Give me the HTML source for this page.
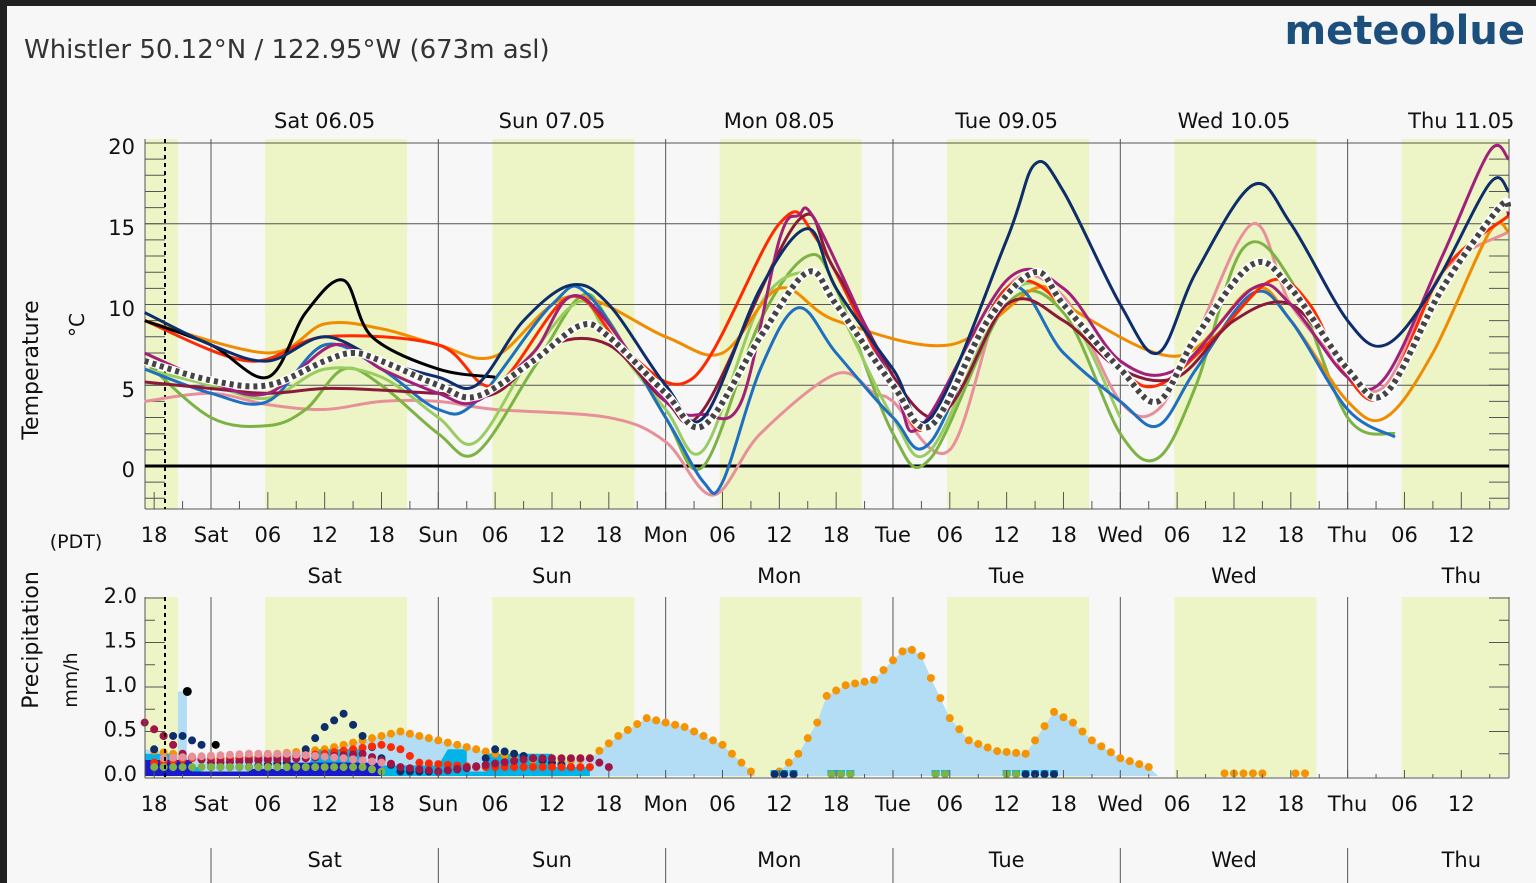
<!DOCTYPE html>
<html><head><meta charset="utf-8"><style>
html,body{margin:0;padding:0;background:#222;}
svg{display:block;font-family:"DejaVu Sans","Liberation Sans",sans-serif;}
</style></head><body>
<svg id="s" width="1536" height="883" xmlns="http://www.w3.org/2000/svg">
<rect x="0" y="0" width="1536" height="883" fill="#202020"/>
<rect x="7" y="6" width="1529" height="877" fill="#f7f7f7"/>
<text x="24" y="58" font-size="26" fill="#333">Whistler  50.12°N / 122.95°W (673m asl)</text>
<text x="1525" y="44" font-size="40" font-weight="bold" fill="#1d4f7c" text-anchor="end">meteoblue</text>
<g id="g"></g>
</svg>
<script>
const g=document.getElementById('g');let h='';
const X=t=>211+t*9.472;
const TY=v=>466-v*16.15;
const PY=v=>776-v*89;
const L=145,R=1509;
function seg(a,b){return [Math.max(a,-7),Math.min(b,137)];}
const days=[[-7,-3.5]];for(let d=0;d<6;d++)days.push([d*24+5.7,d*24+20.7]);
function shade(y1,y2){days.forEach(([a,b])=>{[a,b]=seg(a,b);h+=`<rect x="${X(a)}" y="${y1}" width="${X(b)-X(a)}" height="${y2-y1}" fill="#edf5c6"/>`;});}
shade(139,509);shade(597,777);
[20,15,10,5].forEach(v=>h+=`<line x1="${L}" x2="${R}" y1="${TY(v)}" y2="${TY(v)}" stroke="#555" stroke-width="1"/>`);
for(let d=0;d<6;d++)h+=`<line x1="${X(d*24)}" x2="${X(d*24)}" y1="139" y2="509" stroke="#555"/>`;
for(let v=-2;v<=20;v++)h+=`<line x1="${R-20}" x2="${R}" y1="${TY(v)}" y2="${TY(v)}" stroke="#555"/>`;
for(let v=-2;v<=20;v++)h+=`<line x1="${L}" x2="${L+20}" y1="${TY(v)}" y2="${TY(v)}" stroke="#555"/>`;
for(let t=-6;t<=137;t+=3)h+=`<line x1="${X(t)}" x2="${X(t)}" y1="509" y2="${t%6==0?492:501}" stroke="#555"/>`;
h+=`<line x1="${L}" x2="${L}" y1="139" y2="509" stroke="#555"/><line x1="${R}" x2="${R}" y1="139" y2="509" stroke="#555"/><line x1="${L}" x2="${R}" y1="509" y2="509" stroke="#555"/>`;
h+=`<line x1="${L}" x2="${R}" y1="${TY(0)}" y2="${TY(0)}" stroke="#000" stroke-width="3"/>`;
h+=`<line x1="165" x2="165" y1="139" y2="509" stroke="#000" stroke-width="2" stroke-dasharray="4,4"/>`;
[[20,147],[15,228],[10,309],[5,390],[0,470]].forEach(([v,y])=>h+=`<text x="135" y="${y+7}" font-size="21" text-anchor="end" fill="#111">${v}</text>`);
h+=`<text transform="translate(38,370) rotate(-90)" font-size="22" text-anchor="middle" fill="#111">Temperature</text>`;
h+=`<text transform="translate(84,325) rotate(-90)" font-size="20" text-anchor="middle" fill="#111">°C</text>`;
['Sat 06.05','Sun 07.05','Mon 08.05','Tue 09.05','Wed 10.05','Thu 11.05'].forEach((s,i)=>h+=`<text x="${X(i*24+12)}" y="128" font-size="21" text-anchor="middle" fill="#111">${s}</text>`);
const dn=['Sat','Sun','Mon','Tue','Wed','Thu'];
function hrlabels(y){for(let t=-6;t<=132;t+=6){let d=Math.floor(t/24),r=((t%24)+24)%24;let s=r==0?dn[d]:String(r).padStart(2,'0');h+=`<text x="${X(t)}" y="${y}" font-size="21" text-anchor="middle" fill="#111">${s}</text>`;}}
hrlabels(542);
h+=`<text x="76" y="548" font-size="19" text-anchor="middle" fill="#111">(PDT)</text>`;
dn.forEach((s,i)=>h+=`<text x="${X(i*24+12)}" y="583" font-size="21" text-anchor="middle" fill="#111">${s}</text>`);
function path(pts){pts=pts.map(([t,v])=>[X(t),TY(v)]);let d=`M${pts[0][0]},${pts[0][1]}`;for(let i=0;i<pts.length-1;i++){const p0=pts[i-1]||pts[i],p1=pts[i],p2=pts[i+1],p3=pts[i+2]||p2;const c1=[p1[0]+(p2[0]-p0[0])/6,p1[1]+(p2[1]-p0[1])/6],c2=[p2[0]-(p3[0]-p1[0])/6,p2[1]-(p3[1]-p1[1])/6];d+=`C${c1[0]},${c1[1]} ${c2[0]},${c2[1]} ${p2[0]},${p2[1]}`;}return d;}
const S=[
['#e8909a',[[-7,4],[0,4.5],[6,3.8],[12,3.5],[18,4],[24,4],[30,3.5],[42,3],[48,1.5],[53,-1.8],[58,2],[66,5.7],[70,4.5],[72,4],[78,1],[84,11],[90,10.5],[96,4],[100,3.5],[104,8],[110,15],[114,10],[120,6],[124,5],[130,12],[137,14.5]]],
['#7cb342',[[-7,6.5],[0,3],[6,2.5],[10,3.5],[14,6],[18,5],[24,2],[28,0.8],[34,6],[39,10.5],[42,9],[48,3],[52,0],[58,9],[63,13],[66,11],[72,2],[76,0.5],[84,10],[90,9.5],[96,2],[100,0.5],[104,5],[109,13.5],[114,11.5],[120,3],[125,2]]],
['#9acd60',[[-7,6],[0,5],[6,4.2],[12,6],[18,5.5],[24,3],[28,1.5],[34,7],[39,10.2],[42,8],[48,3.5],[52,1],[58,10],[63,12],[66,10],[72,3],[76,1],[84,10.5],[90,10],[96,3]]],
['#f08c00',[[-7,9],[6,7],[12,8.8],[18,8.5],[24,7.5],[30,6.8],[38,10.5],[48,8],[54,7],[60,11],[66,9],[78,7.5],[87,11],[90,10],[102,6.8],[110,11],[114,9],[120,4],[124,3],[129,7],[135,14.5],[137,14.5]]],
['#1e6fc0',[[-7,6],[0,4.5],[6,4],[12,7.5],[18,6],[24,3.5],[28,4],[36,10],[40,10.5],[48,3],[52,-1],[54,-1],[58,6],[62,9.8],[66,7],[72,3],[76,1.5],[84,11],[90,7],[96,4],[100,2.5],[104,6],[110,10.7],[114,9],[120,3.5],[125,1.8]]],
['#ff2a00',[[-7,9],[4,6.5],[12,8],[24,7.5],[30,5],[38,10.5],[44,7],[51,5.5],[60,15],[64,14],[72,5],[76,2.5],[84,11],[90,10],[96,6],[100,5],[106,8],[112,11.5],[116,10],[120,5.5],[124,4.5],[130,12],[137,15.5]]],
['#8b1a3a',[[-7,5.2],[0,4.8],[6,4.5],[12,4.8],[18,4.7],[24,4.5],[30,4.5],[36,7.5],[42,7.5],[48,4],[52,3.5],[62,15.2],[66,12],[76,3],[84,10],[90,9],[96,6],[102,5.5],[108,9],[114,10],[120,6],[124,4.5],[130,11],[136,16],[137,15.5]]],
['#a0207a',[[-7,7],[0,5.2],[6,4.5],[13,7.5],[18,6],[24,4.5],[28,4],[34,7],[39,10.5],[48,4],[52,3.2],[56,4],[60,14],[62,15.5],[64,15],[72,5],[75,2.5],[84,11.5],[90,11],[96,6.5],[102,6],[110,11],[114,10],[120,5.5],[124,5.5],[130,13],[135,19.5],[137,19]]],
['#000',[[-7,9],[0,7.5],[6,5.5],[10,9.5],[14,11.5],[17,8],[24,6],[30,5.5]]],
['#0d2d6b',[[-7,9.5],[0,7.5],[6,6.5],[12,8],[18,6.5],[24,5.5],[28,5],[33,9],[38,11.2],[42,10],[48,5],[52,3],[58,11],[63,14.7],[66,11],[72,6],[76,3],[84,14],[87,18.7],[90,17],[96,10],[100,7],[104,12],[110,17.4],[114,15],[120,9],[124,7.5],[129,11],[135,17.5],[137,17]]],
];
S.forEach(([c,p])=>h+=`<path d="${path(p)}" fill="none" stroke="${c}" stroke-width="3"/>`);
const M=[[-7,6.5],[0,5.3],[6,5],[12,6.5],[15,7],[18,6.5],[24,5],[28,4.3],[34,6.5],[39,8.7],[42,8],[48,4.5],[52,2.5],[58,8],[63,12],[66,10],[72,5],[76,2.5],[82,9],[87,12],[90,10],[96,6],[100,4],[104,8],[110,12.5],[114,11],[120,6],[124,4.5],[130,11],[136,16],[137,16]];
h+=`<path d="${path(M)}" fill="none" stroke="#fff" stroke-width="8"/><path d="${path(M)}" fill="none" stroke="#444" stroke-width="6" stroke-dasharray="4,4"/>`;
// precip
[2,1.5,1,0.5].forEach(v=>h+=`<line x1="${L}" x2="${L+20}" y1="${PY(v)}" y2="${PY(v)}" stroke="#555"/><line x1="${R-20}" x2="${R}" y1="${PY(v)}" y2="${PY(v)}" stroke="#555"/>`);
[1.75,1.25,0.75,0.25].forEach(v=>h+=`<line x1="${L}" x2="${L+10}" y1="${PY(v)}" y2="${PY(v)}" stroke="#555"/><line x1="${R-10}" x2="${R}" y1="${PY(v)}" y2="${PY(v)}" stroke="#555"/>`);
for(let d=0;d<6;d++)h+=`<line x1="${X(d*24)}" x2="${X(d*24)}" y1="597" y2="778" stroke="#555"/>`;
const O=[[-7,0.3],[0,0.18],[12,0.3],[18,0.45],[20,0.5],[24,0.4],[30,0.25],[36,0.15],[40,0.2],[43,0.45],[46,0.65],[50,0.55],[54,0.35],[57,0.05],[57.5,0],[59.5,0],[60,0.05],[62,0.25],[64,0.6],[65,0.9],[67,1.02],[70,1.08],[72,1.3],[73.5,1.45],[75,1.35],[76,1.1],[78,0.65],[80,0.4],[83,0.28],[86,0.25],[87,0.4],[89,0.72],[91,0.6],[93,0.4],[96,0.2],[99,0.1],[100,0],[101,0]];
let ap=`M${X(-7)},776`;O.forEach(([t,v])=>ap+=`L${X(t)},${PY(v)}`);ap+=`L${X(101)},776Z`;
h+=`<path d="${ap}" fill="#b3dcf5"/>`;
h+=`<rect x="${X(-3.5)}" y="${PY(0.95)}" width="9" height="${PY(0)-PY(0.95)}" fill="#b3dcf5"/>`;
h+=`<path d="M${X(-7)},776 L${X(-7)},${PY(0.25)} L${X(-4)},${PY(0.25)} L${X(-4)},${PY(0.1)} L${X(-1)},${PY(0.1)} L${X(-1)},${PY(0.03)} L${X(10)},${PY(0.03)} L${X(11)},${PY(0.3)} L${X(16)},${PY(0.3)} L${X(16)},${PY(0.12)} L${X(24)},${PY(0.12)} L${X(25)},${PY(0.3)} L${X(27)},${PY(0.3)} L${X(27)},${PY(0.05)} L${X(29)},${PY(0.05)} L${X(29)},${PY(0.25)} L${X(36)},${PY(0.25)} L${X(36)},${PY(0.1)} L${X(40)},${PY(0.1)} L${X(40)},776Z" fill="#00b4ea"/>`;
h+=`<path d="M${X(-7)},776 L${X(-7)},${PY(0.18)} L${X(-2)},${PY(0.18)} L${X(-2)},${PY(0.05)} L${X(4)},${PY(0.05)} L${X(4)},${PY(0.08)} L${X(8)},${PY(0.08)} L${X(8)},${PY(0.15)} L${X(18)},${PY(0.15)} L${X(18)},776Z" fill="#1a1acc"/>`;
function interp(A,t){for(let i=0;i<A.length-1;i++)if(t>=A[i][0]&&t<=A[i+1][0]){const f=(t-A[i][0])/(A[i+1][0]-A[i][0]||1);return A[i][1]+f*(A[i+1][1]-A[i][1]);}return null;}
for(let t=-6;t<=100;t++){const v=interp(O,t);if(v>0.01)h+=`<circle cx="${X(t)}" cy="${PY(v)}" r="4" fill="#f59300"/>`;}
[[107,0.03],[108,0.03],[109,0.03],[110,0.03],[111,0.03],[114.5,0.03],[115.5,0.03]].forEach(([t,v])=>h+=`<circle cx="${X(t)}" cy="${PY(v)}" r="4" fill="#f59300"/>`);
const dots=[['#0d2d6b',[[-6,0.3],[-5,0.45],[-3,0.45],[-1,0.35],[0,0.1],[4,0.1],[8,0.15],[10,0.3],[12,0.55],[14,0.7],[16,0.45],[18,0.2],[20,0.05],[24,0.05],[28,0.1],[30,0.3],[34,0.2],[38,0.1]]],
['#ff2a00',[[-6,0.15],[-2,0.2],[6,0.2],[12,0.25],[18,0.35],[20,0.3],[22,0.15],[28,0.1],[36,0.1],[40,0.1]]],
['#a01545',[[-7,0.6],[-5,0.45],[-3,0.25],[0,0.15],[10,0.2],[16,0.25],[20,0.1],[24,0.05],[34,0.2],[40,0.2],[42,0.1]]],
['#e8909a',[[-5,0.2],[4,0.25],[8,0.25],[14,0.2],[18,0.15]]],
['#7cb342',[[-6,0.1],[0,0.1],[16,0.1],[18,0.05]]]];
dots.forEach(([c,p])=>{for(let t=p[0][0];t<=p[p.length-1][0];t++){const v=interp(p,t);h+=`<circle cx="${X(t)}" cy="${PY(v)}" r="4" fill="${c}"/>`;}});
// clusters
[[59.5,'#0d2d6b'],[60.5,'#0d2d6b'],[61.5,'#0d2d6b'],[65.5,'#7cb342'],[66.5,'#7cb342'],[67.5,'#7cb342'],[76.5,'#7cb342'],[77.5,'#7cb342'],[84,'#7cb342'],[85,'#7cb342'],[86,'#0d2d6b'],[87,'#0d2d6b'],[88,'#0d2d6b'],[89,'#0d2d6b']].forEach(([t,c])=>h+=`<rect x="${X(t)-4}" y="770" width="8" height="6" fill="#00b4ea"/><circle cx="${X(t)}" cy="${PY(0.02)}" r="4" fill="${c}"/>`);
h+=`<circle cx="${X(-2.5)}" cy="${PY(0.95)}" r="4.5" fill="#000"/><circle cx="${X(0.5)}" cy="${PY(0.35)}" r="4" fill="#000"/>`;
h+=`<line x1="${L}" x2="${L}" y1="597" y2="778" stroke="#555"/><line x1="${R}" x2="${R}" y1="597" y2="778" stroke="#555"/><line x1="${L}" x2="${R}" y1="778" y2="778" stroke="#555"/>`;
for(let t=-6;t<=137;t+=3)h+=`<line x1="${X(t)}" x2="${X(t)}" y1="778" y2="${t%6==0?770:774}" stroke="#555"/>`;
h+=`<line x1="165" x2="165" y1="597" y2="778" stroke="#000" stroke-width="2" stroke-dasharray="4,4"/>`;
[['2.0',2],['1.5',1.5],['1.0',1],['0.5',0.5],['0.0',0]].forEach(([s,v])=>h+=`<text x="137" y="${PY(v)+5}" font-size="21" text-anchor="end" fill="#111">${s}</text>`);
h+=`<text transform="translate(38,640) rotate(-90)" font-size="22" text-anchor="middle" fill="#111">Precipitation</text>`;
h+=`<text transform="translate(77,680) rotate(-90)" font-size="19" text-anchor="middle" fill="#111">mm/h</text>`;
hrlabels(811);
for(let d=0;d<6;d++)h+=`<line x1="${X(d*24)}" x2="${X(d*24)}" y1="848" y2="883" stroke="#555"/>`;
dn.forEach((s,i)=>h+=`<text x="${X(i*24+12)}" y="867" font-size="21" text-anchor="middle" fill="#111">${s}</text>`);
g.innerHTML=h;
</script>
</body></html>
